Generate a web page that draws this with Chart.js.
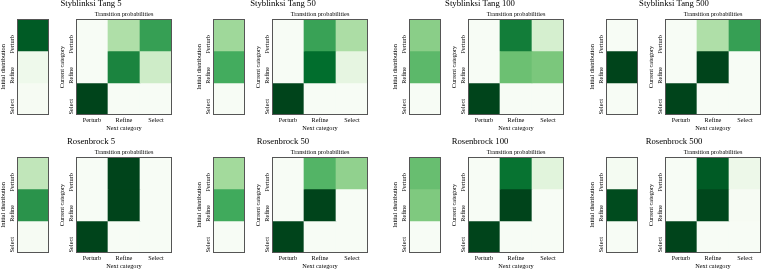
<!DOCTYPE html>
<html>
<head>
<meta charset="utf-8">
<script src="https://cdn.jsdelivr.net/npm/chart.js@4"></script>
<style>
  html, body { margin: 0; padding: 0; background: #fff; }
  body { width: 761px; height: 270px; position: relative; overflow: hidden; }
  canvas { position: absolute; }
</style>
</head>
<body>
<script>
// categories (rows = current category, columns = next category)
const categories = ['Perturb', 'Refine', 'Select'];
const budgets = [5, 50, 100, 500];
const functionNames = ['Styblinksi Tang', 'Rosenbrock'];

// initial distribution per budget: [Perturb, Refine, Select]
const styblinskiInit = [[0.93, 0.06, 0.01], [0.38, 0.62, 0.0], [0.44, 0.56, 0.0], [0.0, 1.0, 0.0]];
const rosenbrockInit = [[0.27, 0.72, 0.01], [0.37, 0.63, 0.0], [0.53, 0.47, 0.0], [0.02, 0.98, 0.0]];

// transition probabilities per budget
const styblinskiTrans = [
  [[0.0, 0.33, 0.67], [0.0, 0.78, 0.22], [1.0, 0.0, 0.0]],
  [[0.0, 0.66, 0.34], [0.0, 0.87, 0.12], [1.0, 0.0, 0.0]],
  [[0.0, 0.81, 0.19], [0.0, 0.52, 0.48], [1.0, 0.0, 0.0]],
  [[0.0, 0.33, 0.67], [0.0, 1.0, 0.0], [1.0, 0.0, 0.0]]
];
const rosenbrockTrans = [
  [[0.0, 1.0, 0.0], [0.0, 1.0, 0.0], [1.0, 0.0, 0.0]],
  [[0.0, 0.58, 0.42], [0.0, 1.0, 0.0], [1.0, 0.0, 0.0]],
  [[0.0, 0.85, 0.14], [0.0, 1.0, 0.0], [1.0, 0.0, 0.0]],
  [[0.0, 0.93, 0.07], [0.0, 0.99, 0.01], [1.0, 0.0, 0.0]]
];

// layout
const rowTop = [19, 157];
const boxH = 96;
const initLeft = [17, 213, 409, 606];
const transLeft = [76, 272, 468, 665];
const initW = 32, transW = 96;
const titleCenter = [91, 283, 480, 674];
const yAxisW = 20;

// matplotlib "Greens"
const greens = ['#f7fcf5', '#e5f5e0', '#c7e9c0', '#a1d99b', '#74c476', '#41ab5d', '#238b45', '#006d2c', '#00441b'];
function hexRgb(h) {
  return [parseInt(h.slice(1, 3), 16), parseInt(h.slice(3, 5), 16), parseInt(h.slice(5, 7), 16)];
}
function greenAt(v) {
  const t = Math.max(0, Math.min(1, v)) * 8;
  const i = Math.min(7, Math.floor(t));
  const f = t - i;
  const a = hexRgb(greens[i]), b = hexRgb(greens[i + 1]);
  const c = a.map((x, k) => Math.round(x + (b[k] - x) * f));
  return `rgb(${c[0]},${c[1]},${c[2]})`;
}

Chart.defaults.font.family = '"Liberation Serif", "Times New Roman", serif';
Chart.defaults.color = '#000';

const framePlugin = {
  id: 'frame',
  afterDatasetsDraw(chart) {
    const { ctx, chartArea: a } = chart;
    ctx.save();
    ctx.strokeStyle = '#555';
    ctx.lineWidth = 1;
    ctx.strokeRect(a.left + 0.5, a.top + 0.5, a.width - 1, a.height - 1);
    ctx.restore();
  }
};

function makeCanvas(left, top, w, h) {
  const c = document.createElement('canvas');
  c.width = w;
  c.height = h;
  c.style.left = left + 'px';
  c.style.top = top + 'px';
  c.style.width = w + 'px';
  c.style.height = h + 'px';
  document.body.appendChild(c);
  return c;
}

function yScale(title, padTop) {
  return {
    type: 'linear',
    min: 0,
    max: 3,
    reverse: true,
    grid: { display: false, drawTicks: false, tickLength: 0 },
    border: { display: false },
    afterBuildTicks: s => { s.ticks = [0.5, 1.5, 2.5].map(v => ({ value: v })); },
    afterFit: s => {
      s.width = s.chart.config.options.yWidth;
      s.paddingTop = 0;
      s.paddingBottom = 0;
    },
    ticks: {
      autoSkip: false,
      minRotation: 90,
      maxRotation: 90,
      crossAlign: 'near',
      padding: 5,
      font: { size: 6.3 },
      callback: (v, i) => categories[i]
    },
    title: {
      display: true,
      text: title,
      font: { size: 6.3, lineHeight: '7px' },
      padding: { top: padTop, bottom: 0 }
    }
  };
}

function drawPanel(row, col, init, trans) {
  const top = rowTop[row];

  // initial distribution (one column)
  const initCanvas = makeCanvas(initLeft[col] - yAxisW, top - 2, yAxisW + initW + 2, boxH + 4);
  new Chart(initCanvas, {
    type: 'bar',
    data: {
      labels: [''],
      datasets: init.map((p, r) => ({
        data: [[r, r + 1]],
        backgroundColor: [greenAt(p)],
        borderWidth: 0,
        grouped: false,
        barPercentage: 1,
        categoryPercentage: 1
      }))
    },
    options: {
      responsive: false,
      animation: false,
      yWidth: yAxisW,
      layout: { padding: { top: 2, bottom: 2, right: 2, left: 0 } },
      plugins: { legend: { display: false }, tooltip: { enabled: false } },
      scales: {
        x: { display: false },
        y: yScale('Initial distribution', yAxisW - 14 - 3.5)
      }
    },
    plugins: [framePlugin]
  });

  // transition matrix
  const right = transLeft[col] + transW;
  const left = 2 * titleCenter[col] - right;
  const yw = transLeft[col] - left;
  const transCanvas = makeCanvas(left, top - 22, right - left, 22 + boxH + 18);
  new Chart(transCanvas, {
    type: 'bar',
    data: {
      labels: categories,
      datasets: trans.map((rowVals, r) => ({
        data: rowVals.map(() => [r, r + 1]),
        backgroundColor: rowVals.map(greenAt),
        borderWidth: 0,
        grouped: false,
        barPercentage: 1,
        categoryPercentage: 1
      }))
    },
    options: {
      responsive: false,
      animation: false,
      yWidth: yw,
      layout: { padding: 0 },
      plugins: {
        legend: { display: false },
        tooltip: { enabled: false },
        title: {
          display: true,
          text: functionNames[row] + ' ' + budgets[col],
          font: { size: 8.7, weight: 'normal', lineHeight: '9px' },
          padding: { top: 2, bottom: 3 }
        },
        subtitle: {
          display: true,
          fullSize: false,
          text: 'Transition probabilities',
          font: { size: 6.3, lineHeight: '7px' },
          padding: { top: 0, bottom: 1 }
        }
      },
      scales: {
        x: {
          grid: { display: false, drawTicks: false, tickLength: 0 },
          border: { display: false },
          afterFit: s => { s.height = 18; },
          ticks: { autoSkip: false, maxRotation: 0, padding: 1.5, font: { size: 6.3 } },
          title: {
            display: true,
            text: 'Next category',
            font: { size: 6.3, lineHeight: '7px' },
            padding: { top: 0, bottom: 1 }
          }
        },
        y: yScale('Current category', yw - 14 - 3.5)
      }
    },
    plugins: [framePlugin]
  });
}

for (let c = 0; c < 4; c++) {
  drawPanel(0, c, styblinskiInit[c], styblinskiTrans[c]);
  drawPanel(1, c, rosenbrockInit[c], rosenbrockTrans[c]);
}
</script>
</body>
</html>
